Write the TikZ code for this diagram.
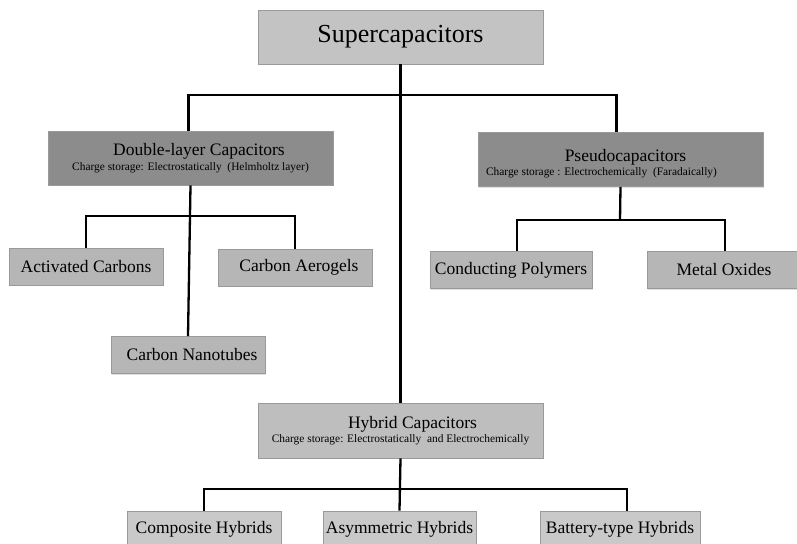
\documentclass[tikz,border=0pt]{standalone}
\usepackage{fontspec}
\setmainfont{Liberation Serif}
\usetikzlibrary{shadows}
\definecolor{topfill}{HTML}{C3C3C3}
\definecolor{darkfill}{HTML}{8C8C8C}
\definecolor{hybfill}{HTML}{BEBEBE}
\definecolor{leaffill}{HTML}{B6B6B6}
\definecolor{hleaffill}{HTML}{C9C9C9}
\definecolor{edge}{HTML}{9A9A9A}
\tikzset{
  box/.style={draw=edge, line width=0.9pt, inner sep=0pt, align=center,
    drop shadow={shadow xshift=1.2pt, shadow yshift=-1.2pt, opacity=0.25}},
  topbox/.style={box, fill=topfill, minimum width=285pt, minimum height=54pt,
    font=\fontsize{26}{28}\selectfont},
  midbox/.style={box, fill=darkfill, minimum width=285pt, minimum height=54pt},
  hybbox/.style={box, fill=hybfill, minimum width=285pt, minimum height=55pt},
  leaf/.style={box, fill=leaffill, minimum height=37pt,
    font=\fontsize{17.5}{19}\selectfont},
  hleaf/.style={box, fill=hleaffill, minimum height=37pt,
    font=\fontsize{17.5}{19}\selectfont},
  boxtext/.style={inner sep=0pt, align=center},
  link/.style={draw=black, line width=2.3pt},
}
\newcommand{\ttl}[1]{{\fontsize{17.5}{19}\selectfont #1}}
\newcommand{\sbt}[1]{{\fontsize{11.4}{12}\selectfont #1}}
\begin{document}
\begin{tikzpicture}[x=1pt,y=-1pt]
\useasboundingbox (0,0) rectangle (797,543);
\coordinate (j1) at (400,95);
\coordinate (j2) at (188,216);
\coordinate (j3) at (620,220);
\coordinate (j4) at (400,489);
% nodes
\node[topbox] (sc) at (400.5,37) {Supercapacitors};
\node[midbox] (dl) at (190.5,158) {\hspace*{17pt}\ttl{Double-layer Capacitors}\\[2.5pt]\sbt{Charge storage: Electrostatically\ \ (Helmholtz\ layer)}};
\node[midbox] (ps) at (620.5,159.5) {};
\node[boxtext] (pst) at (601.5,163.5) {\hspace*{48pt}\ttl{Pseudocapacitors}\\[2.5pt]\sbt{Charge storage : Electrochemically\ \ (Faradaically)}};
\node[hybbox] (hy) at (400.5,430.5) {\hspace*{24pt}\ttl{Hybrid Capacitors}\\[2.5pt]\sbt{Charge storage: Electrostatically\ \ and Electrochemically}};
\node[leaf, minimum width=154pt] (ac) at (86,266.5) {Activated Carbons};
\node[leaf, minimum width=154pt] (ca) at (295,267.5) {\hspace{8pt}Carbon Aerogels};
\node[leaf, minimum width=154pt] (cn) at (188,355) {\hspace{8pt}Carbon Nanotubes};
\node[leaf, minimum width=162pt] (cp) at (511,270) {Conducting Polymers};
\node[leaf, minimum width=154pt] (mo) at (724,270) {Metal Oxides};
\node[hleaf, minimum width=154pt] (co) at (204,529.5) {Composite Hybrids};
\node[hleaf, minimum width=153pt] (as) at (399.5,529.5) {Asymmetric Hybrids};
\node[hleaf, minimum width=160pt] (bt) at (620,529.5) {Battery-type Hybrids};
% links
\draw[link] (sc.south) -- (hy.north);
\draw[link] ([xshift=-2pt]dl.north) |- (j1) -| ([xshift=-4pt]ps.north);
\draw[link] (dl.south) -- (cn.north);
\draw[link] (ac.north) |- (j2) -| (ca.north);
\draw[link] (ps.south) -- (j3);
\draw[link] ([xshift=6pt]cp.north) |- (j3) -| ([xshift=1pt]mo.north);
\draw[link] (hy.south) -- (as.north);
\draw[link] (co.north) |- (j4) -| ([xshift=7pt]bt.north);
\end{tikzpicture}
\end{document}
